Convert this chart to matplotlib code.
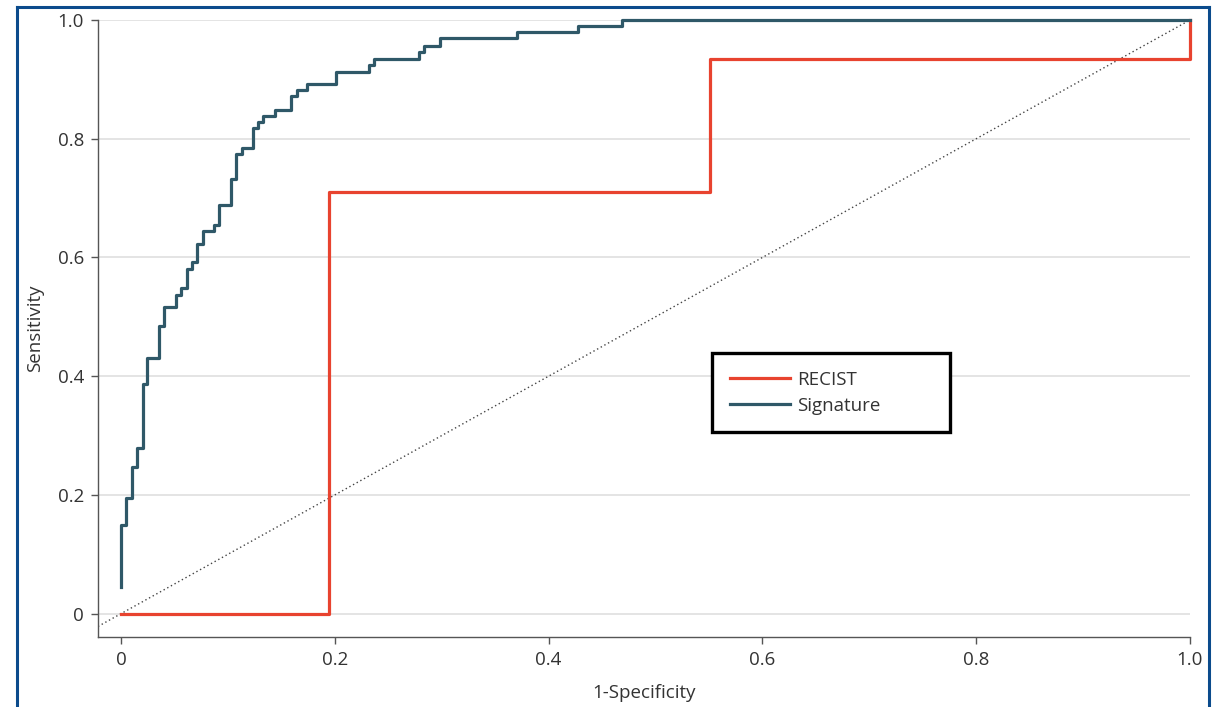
import matplotlib
matplotlib.use("Agg")
import matplotlib.pyplot as plt
from matplotlib.lines import Line2D

# ROC corner points (steps-post: x where the curve rises, new level)
signature_fpr = [0.0, 0.0, 0.0047, 0.010, 0.0152, 0.0203, 0.0246, 0.0358, 0.0405,
                 0.0514, 0.0561, 0.0614, 0.0666, 0.0713, 0.0769, 0.0872, 0.0919,
                 0.1028, 0.1075, 0.1128, 0.1231, 0.1283, 0.1330, 0.1439, 0.1595,
                 0.1648, 0.1741, 0.2007, 0.2318, 0.2364, 0.2785, 0.2832, 0.2981,
                 0.3704, 0.4274, 0.4685, 1.0]
signature_tpr = [0.045, 0.150, 0.195, 0.247, 0.279, 0.387, 0.431, 0.484, 0.516,
                 0.537, 0.548, 0.581, 0.592, 0.623, 0.645, 0.654, 0.688,
                 0.732, 0.774, 0.784, 0.818, 0.828, 0.838, 0.849, 0.872,
                 0.882, 0.892, 0.913, 0.924, 0.935, 0.946, 0.956, 0.969,
                 0.979, 0.990, 1.0, 1.0]

recist_fpr = [0.0, 0.195, 0.551, 1.0, 1.0]
recist_tpr = [0.0, 0.711, 0.935, 0.935, 1.0]

ticks = [0, 0.2, 0.4, 0.6, 0.8, 1.0]
tick_labels = ["0", "0.2", "0.4", "0.6", "0.8", "1.0"]

red = "#e8432f"
teal = "#2f5868"

plt.rcParams['font.family'] = ['Open Sans', 'DejaVu Sans']
fs = 13.5

fig = plt.figure(figsize=(12.22, 7.07), dpi=100)
ax = fig.add_axes([0.0802, 0.099, 0.8936, 0.8727])

# grid lines
for t in ticks:
    ax.axhline(t, color="#e2e2e2", lw=1.3, zorder=0)

# chance line
ax.plot([-0.0215, 1.0], [-0.0215, 1.0], ls=(0, (1, 2)), color="#444444", lw=1.0, zorder=1)

ax.plot(recist_fpr, recist_tpr, drawstyle="steps-post", color=red, lw=2.3,
        clip_on=False, zorder=3)
ax.plot(signature_fpr, signature_tpr, drawstyle="steps-post", color=teal, lw=2.3,
        clip_on=False, zorder=4)

ax.set_xlim(-0.0215, 1.0)
ax.set_ylim(-0.0393, 1.0)
ax.set_xticks(ticks)
ax.set_xticklabels(tick_labels)
ax.set_yticks(ticks)
ax.set_yticklabels(tick_labels)
ax.tick_params(direction="out", length=5, width=1, color="#555555",
               labelsize=fs, labelcolor="#333333", pad=5)
for side in ["top", "right"]:
    ax.spines[side].set_visible(False)
for side in ["left", "bottom"]:
    ax.spines[side].set_color("#555555")
    ax.spines[side].set_linewidth(1.0)

ax.set_xlabel("1-Specificity", fontsize=fs, color="#333333", labelpad=11)
ax.set_ylabel("Sensitivity", fontsize=fs, color="#333333", labelpad=10)

handles = [Line2D([], [], color=red, lw=2.3), Line2D([], [], color=teal, lw=2.3)]
leg = ax.legend(handles, ["RECIST", "Signature"], loc="upper left",
                bbox_to_anchor=(0.562, 0.3355, 0.218, 0.1245), mode="expand",
                fontsize=fs, frameon=True,
                fancybox=False, framealpha=1, edgecolor="black",
                borderpad=0.95, labelspacing=0.4, handlelength=3.2,
                handletextpad=0.4, borderaxespad=0)
leg.get_frame().set_linewidth(2.4)
for txt in leg.get_texts():
    txt.set_color("#333333")

# outer blue frame
frame_color = "#0b4b8c"
W, H = 1222, 707
fig.add_artist(Line2D([17 / W, 17 / W], [0, 1 - 7 / H], color=frame_color, lw=2.2))
fig.add_artist(Line2D([17 / W, 1209 / W], [1 - 7 / H, 1 - 7 / H], color=frame_color, lw=2.2))
fig.add_artist(Line2D([1209 / W, 1209 / W], [0, 1 - 7 / H], color=frame_color, lw=2.2))

fig.savefig("out.png", dpi=100)
